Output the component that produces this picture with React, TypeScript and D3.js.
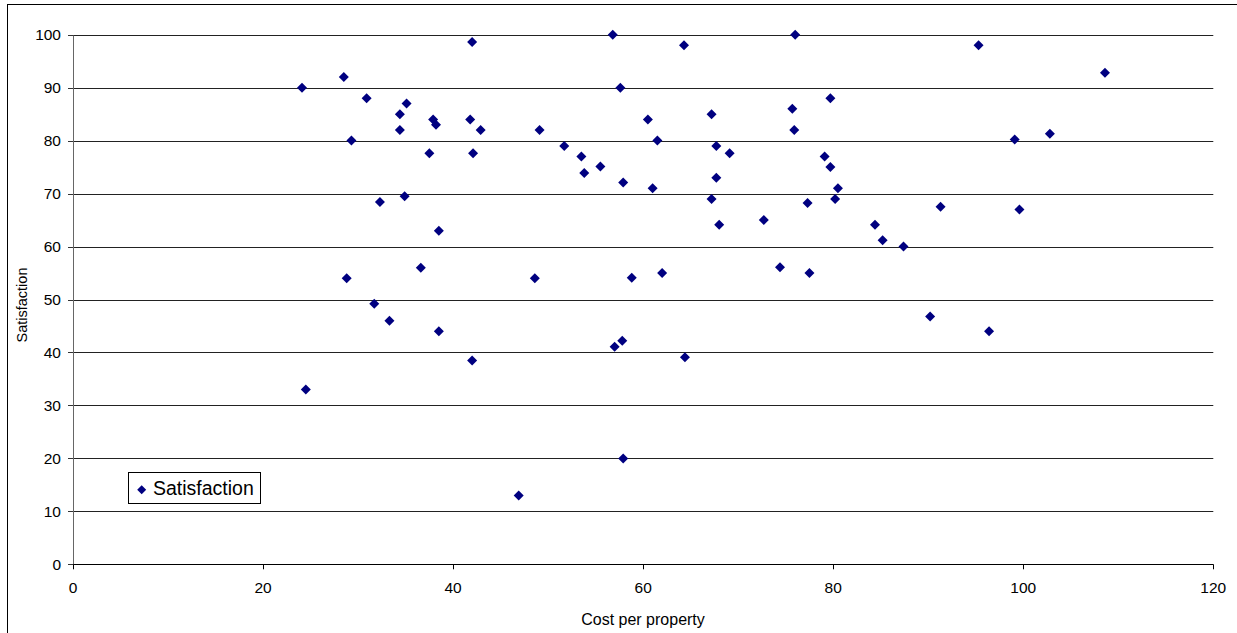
import React from "react";
import * as d3 from "d3";

// Cost per property (x) and satisfaction score (y) for each property
const costPerProperty = [
  24.1, 24.5, 28.5, 29.3, 30.9, 28.8, 32.3, 31.7, 33.3, 34.4, 34.4, 35.1, 34.9, 36.6,
  37.5, 37.9, 38.2, 38.5, 38.5, 42.0, 41.8, 42.9, 42.1, 42.0, 49.1, 46.9, 48.6, 51.7,
  53.5, 53.8, 55.5, 56.8, 57.6, 57.9, 58.8, 57.0, 57.8, 57.9, 64.3, 64.4, 60.5, 61.5,
  61.0, 62.0, 67.2, 67.7, 67.7, 67.2, 69.1, 68.0, 72.7, 74.4, 76.0, 75.7, 75.9, 77.3,
  77.5, 79.7, 79.1, 79.7, 80.5, 80.2, 84.4, 85.2, 87.4, 91.3, 90.2, 96.4, 95.3, 99.1,
  99.6, 102.8, 108.6,
];
const satisfaction = [
  90, 33, 92, 80, 88, 54, 68.4, 49.2, 46, 85, 82, 87, 69.5, 56,
  77.6, 84, 83, 63, 44, 98.6, 84, 82, 77.6, 38.5, 82, 13, 54, 79,
  77, 73.9, 75.1, 100, 90, 72.1, 54.1, 41.1, 42.2, 20, 98, 39.1, 84, 80,
  71, 55, 85, 79, 73, 69, 77.6, 64.1, 65, 56.1, 100, 86, 82, 68.2,
  55, 88, 77, 75, 71, 69, 64.1, 61.2, 60, 67.5, 46.8, 44, 98, 80.2,
  67, 81.3, 92.8,
];
const xTicks = [0, 20, 40, 60, 80, 100, 120];
const yTicks = [0, 10, 20, 30, 40, 50, 60, 70, 80, 90, 100];
const seriesName = "Satisfaction";
const xTitle = "Cost per property";
const yTitle = "Satisfaction";

const W = 1237;
const H = 633;
const plot = { left: 73, right: 1213.3, top: 34.7, bottom: 564.3 };
const FONT = "Arial, 'Liberation Sans', sans-serif";
const NAVY = "#000080";

const diamond = (cx: number, cy: number, r: number) =>
  `M${cx},${cy - r}L${cx + r},${cy}L${cx},${cy + r}L${cx - r},${cy}Z`;

export default function App() {
  const x = d3.scaleLinear().domain([0, 120]).range([plot.left, plot.right]);
  const y = d3.scaleLinear().domain([0, 100]).range([plot.bottom, plot.top]);
  const points = d3.zip(costPerProperty, satisfaction);

  return (
    <svg
      width={W}
      height={H}
      style={{ position: "absolute", left: 0, top: 0, background: "#fff" }}
      fontFamily={FONT}
    >
      {/* chart frame */}
      <rect x={7.5} y={4.5} width={1260} height={660} fill="#fff" stroke="#000" strokeWidth={1} />

      {/* horizontal gridlines */}
      {yTicks.map((t) => (
        <line
          key={`g${t}`}
          x1={plot.left}
          x2={plot.right}
          y1={Math.round(y(t)) + 0.5}
          y2={Math.round(y(t)) + 0.5}
          stroke={t === 0 ? "#000" : "#222"}
          strokeWidth={1}
        />
      ))}

      {/* y axis */}
      <line
        x1={plot.left + 0.5}
        x2={plot.left + 0.5}
        y1={Math.round(plot.top) + 0.5}
        y2={Math.round(plot.bottom) + 0.5}
        stroke="#666"
      />
      {yTicks.map((t) => (
        <g key={`y${t}`}>
          <line
            x1={plot.left - 5}
            x2={plot.left}
            y1={Math.round(y(t)) + 0.5}
            y2={Math.round(y(t)) + 0.5}
            stroke="#333"
          />
          <text
            x={61}
            y={y(t)}
            textAnchor="end"
            dominantBaseline="central"
            fontSize={15.5}
            fill="#000"
          >
            {t}
          </text>
        </g>
      ))}

      {/* x axis ticks and labels */}
      {xTicks.map((t) => (
        <g key={`x${t}`}>
          <line
            x1={Math.round(x(t)) + 0.5}
            x2={Math.round(x(t)) + 0.5}
            y1={plot.bottom}
            y2={plot.bottom + 5}
            stroke="#000"
          />
          <text
            x={x(t)}
            y={587.5}
            textAnchor="middle"
            dominantBaseline="central"
            fontSize={15.5}
            fill="#000"
          >
            {t}
          </text>
        </g>
      ))}

      {/* axis titles */}
      <text x={643} y={619.5} textAnchor="middle" dominantBaseline="central" fontSize={16} fill="#000">
        {xTitle}
      </text>
      <text
        transform="translate(21.5,305) rotate(-90)"
        textAnchor="middle"
        dominantBaseline="central"
        fontSize={14.5}
        fill="#000"
      >
        {yTitle}
      </text>

      {/* data points */}
      {points.map(([cx, cy], i) => (
        <path key={i} d={diamond(x(cx), y(cy), 5)} fill={NAVY} />
      ))}

      {/* legend */}
      <rect x={128.5} y={472.5} width={132} height={31} fill="#fff" stroke="#000" />
      <path d={diamond(141.7, 489.7, 4.5)} fill={NAVY} />
      <text x={153} y={488} dominantBaseline="central" fontSize={19.5} fill="#000">
        {seriesName}
      </text>
    </svg>
  );
}
